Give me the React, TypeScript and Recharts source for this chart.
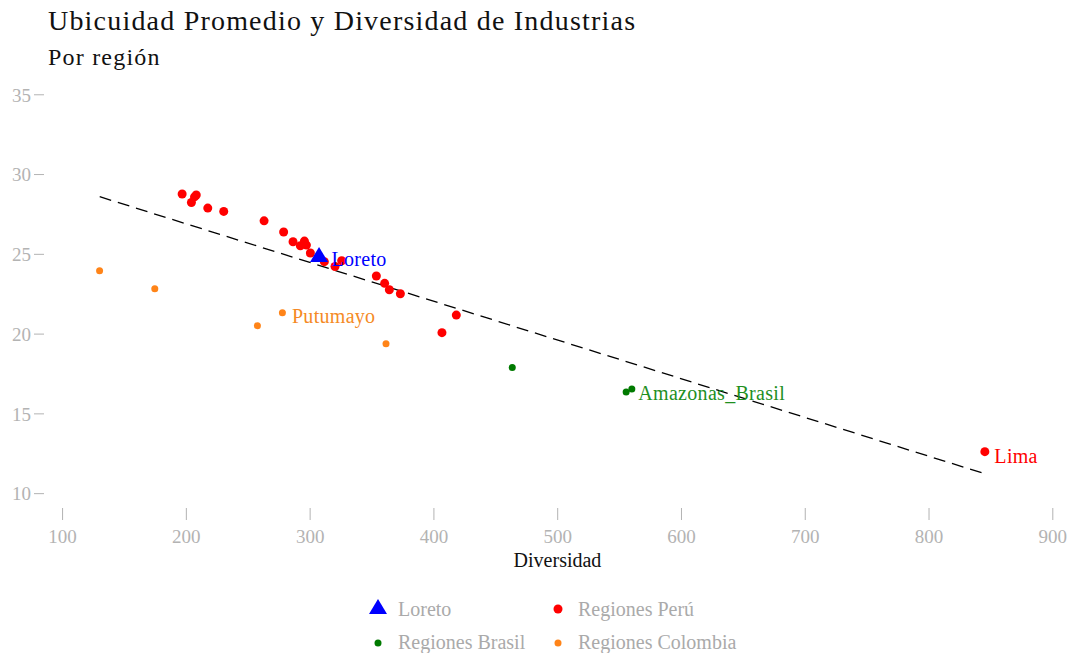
import { LabelList, ReferenceLine, Scatter, ScatterChart, XAxis, YAxis } from "recharts";

const FONT = "'Liberation Serif', 'DejaVu Serif', serif";

// Diversidad (x) vs Ubicuidad promedio (y)
const peru = [
  { x: 196.6, y: 28.78 },
  { x: 204.1, y: 28.25 },
  { x: 206.6, y: 28.6 },
  { x: 208.0, y: 28.72 },
  { x: 217.3, y: 27.9 },
  { x: 230.2, y: 27.69 },
  { x: 262.8, y: 27.1 },
  { x: 278.6, y: 26.4 },
  { x: 286.2, y: 25.79 },
  { x: 292.1, y: 25.54 },
  { x: 295.4, y: 25.83 },
  { x: 297.0, y: 25.58 },
  { x: 300.2, y: 25.08 },
  { x: 311.5, y: 24.54 },
  { x: 320.1, y: 24.24 },
  { x: 325.5, y: 24.6 },
  { x: 353.5, y: 23.64 },
  { x: 360.2, y: 23.18 },
  { x: 364.0, y: 22.78 },
  { x: 372.9, y: 22.53 },
  { x: 406.5, y: 20.09 },
  { x: 418.1, y: 21.19 },
  { x: 845.1, y: 12.63, label: "Lima" }
];

const loreto = [{ x: 307.2, y: 24.9, label: "Loreto" }];

const brasil = [
  { x: 463.3, y: 17.9 },
  { x: 555.3, y: 16.37 },
  { x: 559.9, y: 16.56, label: "Amazonas_Brasil" }
];

const colombia = [
  { x: 129.9, y: 23.97 },
  { x: 174.5, y: 22.84 },
  { x: 257.4, y: 20.53 },
  { x: 277.6, y: 21.34, label: "Putumayo" },
  { x: 361.3, y: 19.4 }
];

// linear fit
const trend = [
  { x: 130, y: 28.61 },
  { x: 847, y: 11.2 }
];

const xTicks = [100, 200, 300, 400, 500, 600, 700, 800, 900];
const yTicks = [10, 15, 20, 25, 30, 35];

const legendItems = [
  { name: "Loreto", color: "#0000ff", kind: "triangle" },
  { name: "Regiones Perú", color: "#ff0000", kind: "big" },
  { name: "Regiones Brasil", color: "#007a00", kind: "small" },
  { name: "Regiones Colombia", color: "#ff8418", kind: "small" }
];

const GREY = "#b3b3b3";

const dot = (r: number, color: string) => (props: any) => (
  <circle cx={props.cx} cy={props.cy} r={r} fill={color} />
);

const triangle = (props: any) => {
  const { cx, cy } = props;
  return <polygon points={`${cx},${cy - 9} ${cx - 9},${cy + 6} ${cx + 9},${cy + 6}`} fill="#0000ff" />;
};

const labelStyle = { fontSize: 20, fontFamily: FONT, letterSpacing: 0.3 };

function LegendIcon({ kind, color }: { kind: string; color: string }) {
  return (
    <svg width={20} height={18} style={{ position: "absolute", left: -30, top: -1 }}>
      {kind === "triangle" ? (
        <polygon points="10,1 1,16 19,16" fill={color} />
      ) : (
        <circle cx={10} cy={kind === "big" ? 11 : 12} r={kind === "big" ? 4.5 : 3.5} fill={color} />
      )}
    </svg>
  );
}

export default function App() {
  return (
    <div style={{ position: "absolute", left: 0, top: 0, width: 1073, height: 653, background: "#fff", fontFamily: FONT }}>
      <div style={{ position: "absolute", left: 48, top: 7, fontSize: 28, lineHeight: 1, color: "#111", letterSpacing: 1.2, whiteSpace: "nowrap" }}>
        Ubicuidad Promedio y Diversidad de Industrias
      </div>
      <div style={{ position: "absolute", left: 48, top: 45, fontSize: 24, lineHeight: 1, color: "#111", letterSpacing: 1.2 }}>
        Por región
      </div>

      <ScatterChart width={1073} height={653} margin={{ top: 90, right: 14, bottom: 85, left: 0 }}>
        <XAxis
          type="number"
          dataKey="x"
          domain={[85, 905]}
          ticks={xTicks}
          axisLine={false}
          tickLine={{ stroke: GREY }}
          tickSize={12}
          tickMargin={10}
          height={60}
          tick={{ fill: GREY, fontSize: 19, fontFamily: FONT }}
          label={{ value: "Diversidad", position: "insideBottom", offset: 1, dx: 6, fill: "#111", fontSize: 20, fontFamily: FONT }}
        />
        <YAxis
          type="number"
          dataKey="y"
          domain={[9.1, 35.3]}
          ticks={yTicks}
          axisLine={false}
          tickLine={{ stroke: GREY }}
          tickSize={10}
          tickMargin={3}
          width={44}
          tick={{ fill: GREY, fontSize: 19, fontFamily: FONT }}
        />
        <ReferenceLine
          segment={trend}
          stroke="#000"
          strokeWidth={1.3}
          strokeDasharray="12 7"
          ifOverflow="visible"
        />
        <Scatter data={colombia} shape={dot(3.5, "#ff8418")} isAnimationActive={false}>
          <LabelList dataKey="label" position="right" offset={5} dy={3} fill="#f58a25" {...labelStyle} />
        </Scatter>
        <Scatter data={brasil} shape={dot(3.5, "#007a00")} isAnimationActive={false}>
          <LabelList dataKey="label" position="right" offset={2} dy={4} fill="#1f8f1f" {...labelStyle} />
        </Scatter>
        <Scatter data={peru} shape={dot(4.5, "#ff0000")} isAnimationActive={false}>
          <LabelList dataKey="label" position="right" offset={5} dy={4} fill="#ff0000" {...labelStyle} />
        </Scatter>
        <Scatter data={loreto} shape={triangle} isAnimationActive={false}>
          <LabelList dataKey="label" position="right" offset={8} dy={3} fill="#0000ff" {...labelStyle} />
        </Scatter>
      </ScatterChart>

      {legendItems.map((item, i) => (
        <div
          key={item.name}
          style={{
            position: "absolute",
            left: i % 2 === 0 ? 398 : 578,
            top: i < 2 ? 599 : 632,
            fontSize: 20,
            lineHeight: 1,
            color: "#aaaaaa",
            whiteSpace: "nowrap"
          }}
        >
          <LegendIcon kind={item.kind} color={item.color} />
          {item.name}
        </div>
      ))}
    </div>
  );
}
